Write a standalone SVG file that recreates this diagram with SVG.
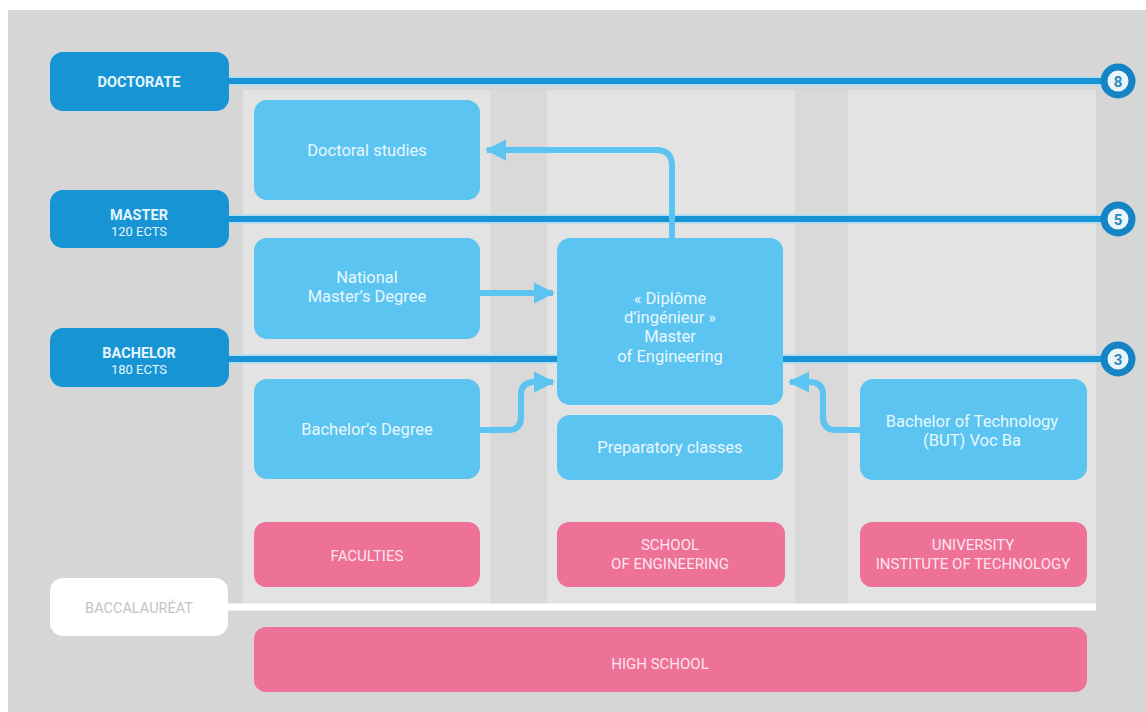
<svg xmlns="http://www.w3.org/2000/svg" width="1146" height="712" viewBox="0 0 1146 712">
<defs>
<style>
text{font-family:Roboto,"Liberation Sans",sans-serif;text-anchor:middle}
.lvl{fill:#1794d4}
.lvlt{fill:#e4f5fd;font-weight:bold;font-size:14.5px}
.lvls{fill:#e4f5fd;font-size:13px}
.box{fill:#5bc4f1}
.boxt{fill:#e9f7fe;font-size:16.5px}
.pink{fill:#ee7198}
.pinkt{fill:#fde4ec;font-size:15px}
.halo{stroke:#a9dcf4;stroke-width:9;fill:none}
.line{stroke:#1794d4;stroke-width:6;fill:none}
.arr{stroke:#5bc4f1;stroke-width:6;fill:none}
.ring{fill:#e9f5fb;stroke:#1484c4;stroke-width:7}
.num{fill:#2a86bf;font-weight:bold;font-size:15px}
</style>
<marker id="ah" viewBox="0 0 10 10" refX="9" refY="5" markerWidth="3.6" markerHeight="3.6" markerUnits="strokeWidth" orient="auto">
<path d="M0,0 L10,5 L0,10 z" fill="#5bc4f1"/>
</marker>
</defs>
<rect width="1146" height="712" fill="#ffffff"/>
<rect x="8" y="10" width="1138" height="702" fill="#d6d6d6"/>
<g id="columns">
<rect x="243" y="90" width="247" height="514" fill="#e3e3e3"/>
<rect x="490" y="90" width="57" height="514" fill="#d9d9d9"/>
<rect x="547" y="90" width="248" height="514" fill="#e3e3e3"/>
<rect x="795" y="90" width="53" height="514" fill="#d9d9d9"/>
<rect x="848" y="90" width="248" height="514" fill="#e3e3e3"/>
</g>
<g id="levels">
<path class="halo" d="M229,81 H1102 M229,219 H1102 M229,359 H1102"/>
<path class="line" d="M229,81 H1102 M229,219 H1102 M229,359 H1102"/>
<path d="M228,607 H1096" stroke="#ffffff" stroke-width="7" fill="none"/>
</g>
<g id="doctorate"><rect class="lvl" x="50" y="52" width="179" height="59" rx="13"/><text class="lvlt" x="139" y="87">DOCTORATE</text></g>
<g id="master"><rect class="lvl" x="50" y="190" width="179" height="58" rx="13"/><text class="lvlt" x="139" y="220">MASTER</text><text class="lvls" x="139" y="236">120 ECTS</text></g>
<g id="bachelor"><rect class="lvl" x="50" y="328" width="179" height="59" rx="13"/><text class="lvlt" x="139" y="358">BACHELOR</text><text class="lvls" x="139" y="374">180 ECTS</text></g>
<g id="baccalaureat"><rect x="50" y="578" width="178" height="58" rx="13" fill="#ffffff"/><text x="139" y="613" fill="#c4c4c4" font-size="14.5">BACCALAURÉAT</text></g>
<g id="level8"><circle class="ring" cx="1118" cy="81" r="14"/><text class="num" x="1118" y="86.5">8</text></g>
<g id="level5"><circle class="ring" cx="1118" cy="219" r="14"/><text class="num" x="1118" y="224.5">5</text></g>
<g id="level3"><circle class="ring" cx="1118" cy="359" r="14"/><text class="num" x="1118" y="364.5">3</text></g>
<g id="doctoral-studies"><rect class="box" x="254" y="100" width="226" height="100" rx="13"/><text class="boxt" x="367" y="156">Doctoral studies</text></g>
<g id="national-master"><rect class="box" x="254" y="238" width="226" height="101" rx="13"/><text class="boxt" x="367" y="283">National</text><text class="boxt" x="367" y="302">Master’s Degree</text></g>
<g id="bachelor-degree"><rect class="box" x="254" y="379" width="226" height="100" rx="13"/><text class="boxt" x="367" y="435">Bachelor’s Degree</text></g>
<g id="diplome"><rect class="box" x="557" y="238" width="226" height="167" rx="13"/><text class="boxt" x="670" y="304">« Diplôme</text><text class="boxt" x="670" y="323">d’ingénieur »</text><text class="boxt" x="670" y="342">Master</text><text class="boxt" x="670" y="362">of Engineering</text></g>
<g id="preparatory"><rect class="box" x="557" y="415" width="226" height="65" rx="13"/><text class="boxt" x="670" y="453">Preparatory classes</text></g>
<g id="but"><rect class="box" x="860" y="379" width="227" height="101" rx="13"/><text class="boxt" x="972" y="427">Bachelor of Technology</text><text class="boxt" x="972" y="446">(BUT) Voc Ba</text></g>
<g id="faculties"><rect class="pink" x="254" y="522" width="226" height="65" rx="12"/><text class="pinkt" x="367" y="561">FACULTIES</text></g>
<g id="school-engineering"><rect class="pink" x="557" y="522" width="228" height="65" rx="12"/><text class="pinkt" x="670" y="550">SCHOOL</text><text class="pinkt" x="670" y="569">OF ENGINEERING</text></g>
<g id="iut"><rect class="pink" x="860" y="522" width="227" height="65" rx="12"/><text class="pinkt" x="973" y="550">UNIVERSITY</text><text class="pinkt" x="973" y="569">INSTITUTE OF TECHNOLOGY</text></g>
<g id="high-school"><rect class="pink" x="254" y="627" width="833" height="65" rx="12"/><text class="pinkt" x="660" y="669" font-size="19">HIGH SCHOOL</text></g>
<g id="connectors">
<path class="arr" marker-end="url(#ah)" d="M672,238 V166 Q672,150 656,150 H487"/>
<path class="arr" marker-end="url(#ah)" d="M480,293 H553"/>
<path class="arr" marker-end="url(#ah)" d="M480,430 H508 Q521,430 521,417 V395 Q521,382 534,382 H553"/>
<path class="arr" marker-end="url(#ah)" d="M860,430 H836 Q823,430 823,417 V395 Q823,382 810,382 H790"/>
</g>
</svg>
